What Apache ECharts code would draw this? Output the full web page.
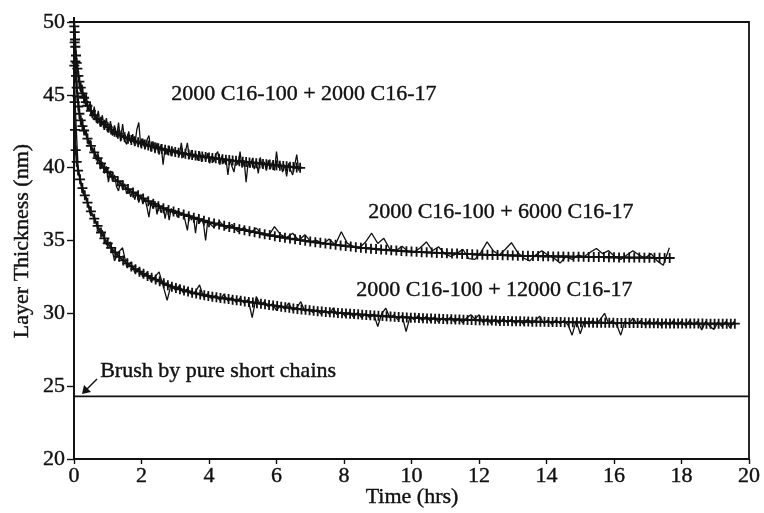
<!DOCTYPE html>
<html>
<head>
<meta charset="utf-8">
<script src="https://cdn.jsdelivr.net/npm/echarts@6/dist/echarts.min.js"></script>
<style>
  html, body { margin: 0; padding: 0; background: #fff; }
  #chart { width: 764px; height: 513px; }
</style>
</head>
<body>
<div id="chart"></div>
<script>
// Layer thickness (nm) versus time (hrs) for three brush mixtures.
// Measured traces are thin lines; fitted curves carry "+" markers.

const xTicks = [0, 2, 4, 6, 8, 10, 12, 14, 16, 18, 20];
const yTicks = [20, 25, 30, 35, 40, 45, 50];

const labelMix1 = '2000 C16-100 + 2000 C16-17';
const labelMix2 = '2000 C16-100 + 6000 C16-17';
const labelMix3 = '2000 C16-100 + 12000 C16-17';
const labelBrush = 'Brush by pure short chains';

// Pure short-chain brush thickness
const brushThickness = 24.3;

// --- 2000 C16-100 + 2000 C16-17 ---
// measured trace, sampled every 0.06 h from t = 0
const meas1Step = 0.06;
const meas1 = [
  49.6, 47.0, 46.8, 45.3, 45.7, 44.4, 45.1, 43.9, 44.5, 43.4,
  44.2, 43.1, 43.9, 42.8, 43.6, 42.6, 43.4, 42.4, 43.2, 42.2,
  42.9, 42.1, 43.1, 41.8, 43.0, 41.9, 41.6, 42.5, 41.7, 42.3,
  41.5, 42.6, 43.1, 41.4, 42.0, 41.3, 41.9, 42.2, 41.1, 41.8,
  41.0, 41.7, 40.9, 41.6, 40.2, 41.4, 40.9, 41.5, 40.8, 41.3,
  40.9, 41.2, 40.8, 41.7, 40.7, 41.1, 41.7, 40.6, 41.2, 40.7,
  41.0, 40.5, 41.1, 40.4, 40.9, 40.5, 41.0, 40.3, 40.8, 40.4,
  40.9, 41.1, 40.2, 40.8, 40.3, 40.7, 39.5, 40.6, 40.1, 39.7,
  40.6, 40.2, 41.1, 40.0, 40.5, 39.0, 40.4, 40.0, 40.6, 39.9,
  40.5, 39.6, 40.7, 40.0, 40.4, 39.8, 40.5, 39.9, 40.4, 39.8,
  41.1, 40.0, 40.3, 39.7, 40.2, 39.4, 40.3, 39.8, 39.5, 40.2,
  40.9, 39.8
];
// fitted curve: early points as [t, value], then every 0.1 h from 0.5 h
const fit1Head = [
  [0, 50], [0.01, 49.7], [0.02, 49.3], [0.03, 48.8], [0.04, 48.3],
  [0.06, 47.7], [0.08, 47.2], [0.1, 46.8], [0.13, 46.3], [0.16, 45.9],
  [0.2, 45.5], [0.25, 45.1], [0.3, 44.8], [0.35, 44.5], [0.4, 44.25]
];
const fit1Start = 0.5;
const fit1Step = 0.1;
const fit1Tail = [
  43.9, 43.6, 43.35, 43.15, 42.95, 42.78, 42.62, 42.47, 42.33, 42.2,
  42.09, 41.99, 41.9, 41.82, 41.74, 41.66, 41.59, 41.52, 41.46, 41.4,
  41.34, 41.28, 41.23, 41.18, 41.13, 41.08, 41.03, 40.99, 40.95, 40.91,
  40.87, 40.83, 40.8, 40.76, 40.73, 40.7, 40.67, 40.64, 40.61, 40.58,
  40.55, 40.52, 40.49, 40.47, 40.44, 40.41, 40.39, 40.36, 40.34, 40.31,
  40.29, 40.26, 40.24, 40.21, 40.19, 40.16, 40.14, 40.11, 40.09, 40.06,
  40.04, 40.01, 39.99
];

// --- 2000 C16-100 + 6000 C16-17 ---
// measured trace: every 0.06 h up to 3.96 h, then every 0.18 h from 4.14 h
const meas2EarlyStep = 0.06;
const meas2Early = [
  49.3, 46.0, 44.9, 43.2, 43.4, 42.3, 42.6, 41.6, 41.9, 41.0,
  41.3, 40.5, 40.9, 39.9, 40.4, 39.6, 40.1, 39.0, 39.8, 39.1,
  39.5, 38.7, 38.4, 39.1, 38.5, 38.9, 38.2, 38.6, 38.0, 38.4,
  37.8, 38.3, 37.6, 38.1, 37.5, 37.9, 37.3, 36.6, 37.6, 37.2,
  37.7, 36.8, 37.5, 36.9, 37.4, 36.5, 37.3, 36.4, 37.2, 36.8,
  37.1, 36.6, 37.0, 36.7, 36.9, 36.3, 35.7, 36.8, 36.4, 36.7,
  35.5, 36.6, 36.2, 36.5, 36.1, 35.0, 36.3
];
const meas2LateStart = 4.14;
const meas2LateStep = 0.18;
const meas2Late = [
  35.9, 36.3, 35.8, 36.1, 35.6, 35.9, 35.5, 35.85, 35.4, 35.3,
  35.95, 35.4, 35.2, 35.5, 35.0, 35.4, 34.9, 35.0, 34.75, 35.1,
  34.7, 35.6, 34.8, 34.6, 34.5, 34.9, 35.5, 34.8, 35.15, 34.4,
  34.3, 34.6, 34.25, 34.2, 34.5, 34.9, 34.3, 34.57, 34.1, 33.9,
  34.1, 34.4, 33.75, 33.7, 34.2, 34.9, 34.3, 34.0, 34.4, 34.85,
  34.2, 33.8, 33.6, 34.0, 34.3, 34.0, 33.8, 33.45, 33.9, 33.7,
  34.0, 33.9, 34.2, 34.45, 34.1, 34.3, 33.9, 33.7, 34.0, 34.3,
  34.0, 33.8, 34.1, 33.6, 33.3, 34.5
];
const fit2Head = [
  [0, 50], [0.02, 48.6], [0.04, 47.3], [0.06, 46.3], [0.08, 45.5],
  [0.1, 44.9], [0.13, 44.2], [0.16, 43.7], [0.2, 43.25], [0.25, 42.85],
  [0.3, 42.55], [0.4, 42.0], [0.5, 41.5], [0.6, 41.05], [0.7, 40.65],
  [0.8, 40.3], [0.9, 39.98]
];
const fit2Start = 1.0;
const fit2Step = 0.15;
const fit2Tail = [
  39.70, 39.37, 39.07, 38.79, 38.53, 38.30, 38.10, 37.89, 37.70, 37.52,
  37.35, 37.22, 37.10, 36.99, 36.88, 36.78, 36.67, 36.57, 36.47, 36.36,
  36.25, 36.17, 36.09, 36.01, 35.93, 35.86, 35.78, 35.71, 35.64, 35.57,
  35.50, 35.43, 35.37, 35.30, 35.24, 35.19, 35.13, 35.08, 35.03, 34.98,
  34.93, 34.88, 34.84, 34.79, 34.75, 34.70, 34.66, 34.62, 34.58, 34.54,
  34.50, 34.47, 34.44, 34.41, 34.38, 34.36, 34.33, 34.31, 34.28, 34.26,
  34.24, 34.22, 34.20, 34.19, 34.17, 34.15, 34.14, 34.12, 34.11, 34.10,
  34.08, 34.07, 34.06, 34.04, 34.03, 34.02, 34.01, 34.00, 33.99, 33.98,
  33.97, 33.96, 33.95, 33.95, 33.94, 33.93, 33.92, 33.92, 33.91, 33.90,
  33.90, 33.89, 33.89, 33.88, 33.88, 33.87, 33.87, 33.86, 33.86, 33.85,
  33.85, 33.84, 33.84, 33.83, 33.83, 33.83, 33.82, 33.82, 33.81, 33.81,
  33.80, 33.80
];

// --- 2000 C16-100 + 12000 C16-17 ---
// measured trace, sampled every 0.12 h from t = 0
const meas3Step = 0.12;
const meas3 = [
  46.0, 40.1, 38.3, 38.0, 36.8, 36.7, 35.6, 35.7, 34.7, 34.9,
  33.6, 34.2, 34.5, 33.2, 33.5, 32.8, 33.1, 32.5, 32.8, 32.2,
  32.5, 32.85, 31.9, 30.9, 32.0, 31.6, 31.9, 31.4, 31.7, 31.3,
  31.5, 31.95, 31.1, 31.35, 31.0, 31.25, 30.9, 31.3, 30.85, 31.1,
  30.75, 31.05, 30.7, 30.95, 29.7, 31.15, 30.6, 30.8, 30.45, 30.65,
  30.2, 30.55, 30.3, 30.7, 30.2, 30.4, 30.8, 30.15, 30.3, 30.05,
  30.25, 29.95, 30.2, 29.95, 30.35, 29.9, 30.1, 29.8, 30.1, 29.75,
  30.05, 29.7, 30.0, 29.7, 29.95, 29.1, 30.0, 30.35, 29.7, 29.9,
  29.55, 29.85, 28.75, 29.8, 29.55, 29.85, 29.5, 29.8, 29.45, 29.75,
  29.4, 29.7, 29.45, 29.75, 29.4, 29.65, 29.35, 29.7, 29.9, 29.6,
  29.9, 29.35, 29.65, 29.3, 29.6, 29.3, 29.65, 29.35, 29.6, 29.3,
  29.55, 29.25, 29.6, 29.3, 29.55, 29.8, 29.3, 29.55, 29.25, 29.55,
  29.3, 29.5, 29.2, 28.5, 29.5, 28.6, 29.45, 29.25, 29.5, 29.3,
  29.6, 30.0, 29.3, 29.5, 29.2, 28.5, 29.45, 29.25, 29.67, 29.3,
  29.5, 29.2, 29.5, 29.25, 29.45, 29.15, 29.45, 29.2, 29.5, 29.2,
  29.45, 29.15, 29.5, 29.2, 29.45, 28.85, 29.45, 29.1, 28.9, 29.4,
  29.1, 29.45, 29.0, 29.45
];
const fit3Head = [
  [0, 50], [0.01, 47.0], [0.02, 44.5], [0.03, 42.6], [0.05, 41.2],
  [0.08, 40.4], [0.12, 39.8], [0.18, 39.2], [0.25, 38.6], [0.32, 38.1],
  [0.4, 37.6], [0.5, 37.0], [0.6, 36.5], [0.7, 36.0], [0.8, 35.55],
  [0.9, 35.15], [1.0, 34.8]
];
const fit3Start = 1.1;
const fit3Step = 0.12;
const fit3Tail = [
  34.50, 34.18, 33.88, 33.63, 33.43, 33.22, 33.03, 32.86, 32.71, 32.57,
  32.44, 32.32, 32.20, 32.06, 31.93, 31.83, 31.74, 31.65, 31.57, 31.50,
  31.42, 31.36, 31.30, 31.24, 31.19, 31.14, 31.10, 31.06, 31.02, 30.98,
  30.94, 30.90, 30.86, 30.82, 30.78, 30.74, 30.70, 30.66, 30.62, 30.58,
  30.54, 30.50, 30.46, 30.42, 30.38, 30.34, 30.30, 30.27, 30.24, 30.21,
  30.18, 30.15, 30.13, 30.10, 30.08, 30.06, 30.03, 30.01, 29.99, 29.97,
  29.95, 29.93, 29.91, 29.89, 29.87, 29.85, 29.83, 29.81, 29.80, 29.78,
  29.76, 29.75, 29.73, 29.72, 29.70, 29.69, 29.68, 29.66, 29.65, 29.64,
  29.63, 29.62, 29.61, 29.60, 29.59, 29.58, 29.57, 29.56, 29.55, 29.54,
  29.53, 29.52, 29.51, 29.50, 29.50, 29.49, 29.48, 29.47, 29.47, 29.46,
  29.45, 29.45, 29.44, 29.44, 29.43, 29.43, 29.42, 29.42, 29.41, 29.41,
  29.40, 29.40, 29.39, 29.39, 29.38, 29.38, 29.38, 29.37, 29.37, 29.36,
  29.36, 29.36, 29.35, 29.35, 29.35, 29.34, 29.34, 29.34, 29.33, 29.33,
  29.33, 29.33, 29.32, 29.32, 29.32, 29.32, 29.31, 29.31, 29.31, 29.31,
  29.31, 29.30, 29.30, 29.30, 29.30, 29.30, 29.30, 29.29, 29.29, 29.29,
  29.29, 29.29, 29.29, 29.29, 29.29
];

// ---------- helpers ----------
const round = v => Math.round(v * 1000) / 1000;
const sampled = (start, step, values) => values.map((v, i) => [round(start + i * step), v]);
const fitted = (head, start, step, tail) => head.concat(sampled(start, step, tail));

const serif = "'Liberation Serif', 'DejaVu Serif', 'Times New Roman', serif";
const ink = '#111';
const plusMark = 'path://M4.1,0h1.8v4.1h4.1v1.8h-4.1v4.1h-1.8v-4.1h-4.1v-1.8h4.1z';

function measuredSeries(data) {
  return {
    type: 'line', data, showSymbol: false, clip: false,
    lineStyle: { color: ink, width: 1.3 }, z: 2, silent: true
  };
}
function fitSeries(data) {
  return {
    type: 'line', data, clip: false,
    symbol: plusMark, symbolSize: 10, symbolKeepAspect: true,
    itemStyle: { color: ink },
    lineStyle: { color: ink, width: 1.8 }, z: 3, silent: true
  };
}
// slightly heavier type, like a printed figure
const textStyle = (text, extra) => Object.assign({
  text, font: '22px ' + serif, fill: ink, stroke: ink, lineWidth: 0.4
}, extra || {});

const chart = echarts.init(document.getElementById('chart'), null, { renderer: 'canvas' });

const option = {
  animation: false,
  backgroundColor: '#fff',
  grid: {
    left: 74, top: 22, width: 675, height: 437,
    show: true, borderColor: ink, borderWidth: 1.8,
    containLabel: false, outerBoundsMode: 'none'
  },
  xAxis: {
    type: 'value', min: xTicks[0], max: xTicks[xTicks.length - 1], interval: 2,
    splitLine: { show: false },
    axisLine: { show: true, onZero: false, lineStyle: { color: ink, width: 1.8 } },
    axisTick: { show: true, length: 5, lineStyle: { color: ink, width: 1.4 } },
    axisLabel: { color: ink, fontFamily: serif, fontSize: 22, margin: 6, textBorderColor: ink, textBorderWidth: 0.4 }
  },
  yAxis: {
    type: 'value', min: yTicks[0], max: yTicks[yTicks.length - 1], interval: 5,
    splitLine: { show: false },
    axisLine: { show: true, onZero: false, lineStyle: { color: ink, width: 1.8 } },
    axisTick: { show: true, length: 7, lineStyle: { color: ink, width: 1.4 } },
    axisLabel: { color: ink, fontFamily: serif, fontSize: 22, margin: 9, textBorderColor: ink, textBorderWidth: 0.4 }
  },
  series: [
    measuredSeries(sampled(0, meas1Step, meas1)),
    fitSeries(fitted(fit1Head, fit1Start, fit1Step, fit1Tail)),
    measuredSeries(sampled(0, meas2EarlyStep, meas2Early).concat(sampled(meas2LateStart, meas2LateStep, meas2Late))),
    fitSeries(fitted(fit2Head, fit2Start, fit2Step, fit2Tail)),
    measuredSeries(sampled(0, meas3Step, meas3)),
    fitSeries(fitted(fit3Head, fit3Start, fit3Step, fit3Tail)),
    {
      type: 'line', data: [[xTicks[0], brushThickness], [xTicks[xTicks.length - 1], brushThickness]],
      showSymbol: false, lineStyle: { color: ink, width: 1.6 }, silent: true
    }
  ],
  graphic: [
    { type: 'text', left: 171, top: 83, style: textStyle(labelMix1) },
    { type: 'text', left: 368, top: 201, style: textStyle(labelMix2) },
    { type: 'text', left: 356, top: 279, style: textStyle(labelMix3) },
    { type: 'text', left: 100, top: 360, style: textStyle(labelBrush) },
    {
      type: 'text', x: 22, y: 241, rotation: Math.PI / 2,
      style: textStyle('Layer Thickness (nm)', { align: 'center', verticalAlign: 'middle' })
    },
    {
      type: 'text', x: 412, y: 497,
      style: textStyle('Time (hrs)', { align: 'center', verticalAlign: 'middle' })
    },
    // arrow pointing at the short-chain brush line
    { type: 'line', shape: { x1: 97, y1: 379, x2: 86, y2: 390 }, style: { stroke: ink, lineWidth: 1.4 } },
    { type: 'polygon', shape: { points: [[82, 394], [84, 385], [91, 392]] }, style: { fill: ink } }
  ]
};

chart.setOption(option);
</script>
</body>
</html>
